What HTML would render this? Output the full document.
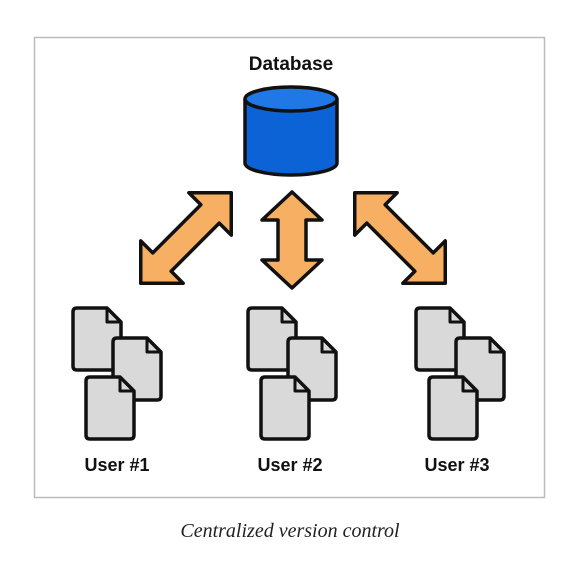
<!DOCTYPE html>
<html><head><style>
body{margin:0;background:#fff;width:587px;height:565px;overflow:hidden}
</style></head><body>
<svg width="587" height="565" xmlns="http://www.w3.org/2000/svg">
<defs>
<g id="doc"><path d="M0,4 Q0,0 4,0 H34 L48,14 V58 Q48,62 44,62 H4 Q0,62 0,58 Z" fill="#d9d9d9" stroke="#111" stroke-width="3.5" stroke-linejoin="round"/><path d="M34,0 V14 H48" fill="none" stroke="#111" stroke-width="3" stroke-linejoin="round"/></g>
<g id="grp"><use href="#doc" x="0" y="0"/><use href="#doc" x="40" y="30"/><use href="#doc" x="13" y="69"/></g>
<polygon id="arr" points="-64,0 -34,-30 -34,-13 34,-13 34,-30 64,0 34,30 34,13 -34,13 -34,30" fill="#f7b063" stroke="#111" stroke-width="3.5" stroke-linejoin="round"/>
<polygon id="arrv" points="-48,0 -20,-30 -20,-14 20,-14 20,-30 48,0 20,30 20,14 -20,14 -20,30" fill="#f7b063" stroke="#111" stroke-width="3.5" stroke-linejoin="round"/>
</defs>
<rect x="34.5" y="37.5" width="510" height="460" fill="#fff" stroke="#bbb" stroke-width="1.5"/>
<text x="291" y="70" text-anchor="middle" font-family="Liberation Sans, sans-serif" font-weight="bold" font-size="19" fill="#111">Database</text>
<path d="M245,99 V163 A46,12 0 0 0 337,163 V99" fill="#0b63d6" stroke="#111" stroke-width="3.5"/>
<ellipse cx="291" cy="99" rx="46" ry="12" fill="#1f78e6" stroke="#111" stroke-width="3.5"/>
<use href="#arr" transform="translate(186,238) rotate(-45)"/>
<use href="#arrv" transform="translate(292,240) rotate(90)"/>
<use href="#arr" transform="translate(400,238) rotate(45)"/>
<use href="#grp" transform="translate(73,308)"/>
<use href="#grp" transform="translate(248,308)"/>
<use href="#grp" transform="translate(416,308)"/>
<g font-family="Liberation Sans, sans-serif" font-weight="bold" font-size="18" fill="#111" text-anchor="middle">
<text x="117" y="471">User #1</text>
<text x="290" y="471">User #2</text>
<text x="457" y="471">User #3</text>
</g>
<text x="290" y="537" text-anchor="middle" font-family="Liberation Serif, serif" font-style="italic" font-size="20" fill="#222">Centralized version control</text>
</svg>
</body></html>
